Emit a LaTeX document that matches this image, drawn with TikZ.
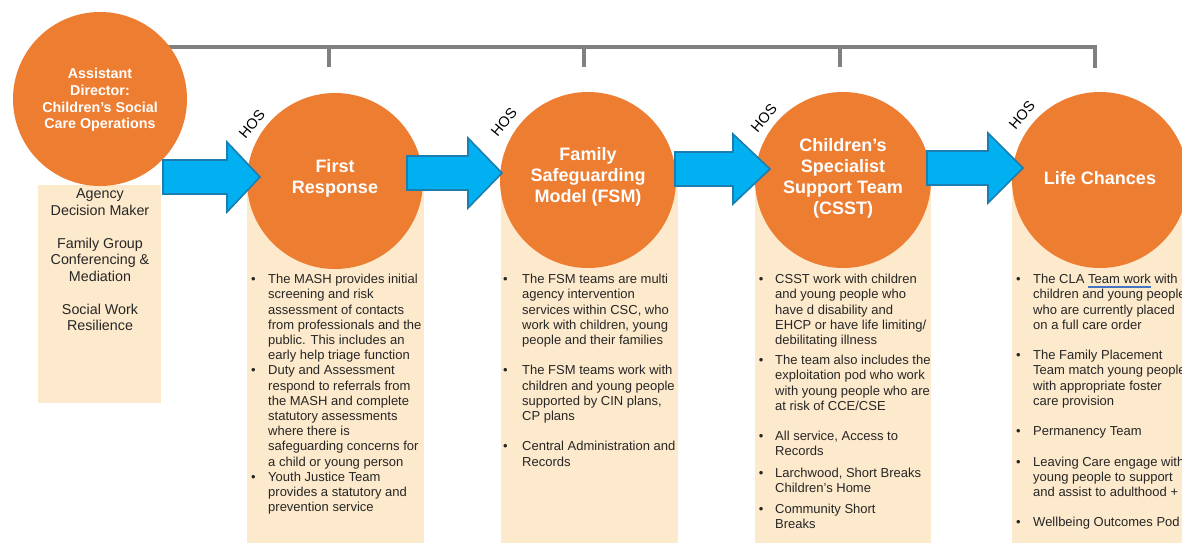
\documentclass[tikz,border=0pt]{standalone}
\usepackage{fontspec}
\setmainfont{Liberation Sans}
\definecolor{orng}{HTML}{ED7D31}
\definecolor{peach}{HTML}{FDE9CB}
\definecolor{arrowblue}{HTML}{00B0F0}
\definecolor{arrowedge}{HTML}{1B7DB0}
\definecolor{bracketgray}{HTML}{808080}
\definecolor{bodytext}{HTML}{262626}
\definecolor{gramblue}{HTML}{4472C4}

% bullet hanging to the left of the first line of an item
\newcommand\bul[1][12.5pt]{\llap{\textbullet\hspace{#1}}}
% blue double underline under a phrase
\newcommand\gramu[1]{\setbox0\hbox{#1}\rlap{\color{gramblue}\rule[-2.4pt]{\wd0}{0.45pt}\hspace{-\wd0}\rule[-3.6pt]{\wd0}{0.45pt}}#1}
% block arrow: shaft start x, head base x, tip x, centre y
\newcommand\blockarrow[4]{%
  \draw[bluearrow] (#1,#4-17) -- (#2,#4-17) -- (#2,#4-35) -- (#3,#4)
    -- (#2,#4+35) -- (#2,#4+17) -- (#1,#4+17) -- cycle;}

\begin{document}
\begin{tikzpicture}[x=1pt,y=-1pt,
  bracket/.style={draw=bracketgray,line width=4.5pt},
  circ/.style={circle,fill=orng,inner sep=0pt},
  panel/.style={fill=peach,inner sep=0pt,anchor=north west},
  bluearrow/.style={fill=arrowblue,draw=arrowedge,line width=1.6pt,line join=miter},
  title/.style={text=white,font=\bfseries\fontsize{18}{21}\selectfont,align=center,inner sep=0pt},
  adtitle/.style={text=white,font=\bfseries\fontsize{14.3}{16.7}\selectfont,align=center,inner sep=0pt},
  body/.style={text=bodytext,font=\fontsize{13}{15.2}\selectfont,align=left,inner sep=0pt,anchor=north west},
  sidetext/.style={text=bodytext,font=\fontsize{14.3}{16.5}\selectfont,align=center,inner sep=0pt,anchor=north},
  hos/.style={text=black,font=\fontsize{14.5}{16}\selectfont,inner sep=0pt,rotate=50}]
\useasboundingbox (0,0) rectangle (1182,542);
\clip (0,0) rectangle (1182,542);

% reporting bracket
\coordinate (tick1) at (329,67);
\coordinate (tick2) at (584,67);
\coordinate (tick3) at (840,67);
\coordinate (tick4) at (1095,68);
\coordinate (bstart) at (100,47);
\draw[bracket] (bstart) -| (tick4);
\foreach \t in {tick1,tick2,tick3} \draw[bracket] (bstart -| \t) -- (\t);

% panels
\node[panel,minimum width=123,minimum height=218] (adpanel) at (38,185) {};
\node[panel,minimum width=177,minimum height=370] (frpanel) at (247,181) {};
\node[panel,minimum width=177,minimum height=370] (fsmpanel) at (501,181) {};
\node[panel,minimum width=176,minimum height=370] (csstpanel) at (755,181) {};
\node[panel,minimum width=180,minimum height=370] (lcpanel) at (1012,181) {};

% circles
\node[circ,minimum size=174] (ad) at (100,99) {};
\node[circ,minimum size=176] (fr) at (335,181) {};
\node[circ,minimum size=176] (fsm) at (588,180) {};
\node[circ,minimum size=176] (csst) at (843,180) {};
\node[circ,minimum size=176] (lc) at (1100,180) {};

\node[adtitle] (adt) at (100,100) {Assistant\\Director:\\Children’s Social\\Care Operations};
\node[title] (frt) at (335,178) {First\\Response};
\node[title] (fsmt) at (588,177) {Family\\Safeguarding\\Model (FSM)};
\node[title] (csstt) at (843,178.5) {Children’s\\Specialist\\Support Team\\(CSST)};
\node[title] (lct) at (1100,178) {Life Chances};

% flow arrows
\blockarrow{163}{227}{260}{177}
\blockarrow{407}{468}{502}{173}
\blockarrow{675}{733}{770}{169}
\blockarrow{927}{988}{1023}{168}

% heads of service
\node[hos] (hos1) at (252,124) {HOS};
\node[hos] (hos2) at (504,122) {HOS};
\node[hos] (hos3) at (764,118) {HOS};
\node[hos] (hos4) at (1022,115) {HOS};

% side panel text
\node[sidetext] (adtxt) at (100,188.5) {Agency\\Decision Maker\\[16.5pt]Family Group\\Conferencing \&\\Mediation\\[16.5pt]Social Work\\Resilience};

% column text
\node[body] (frtxt) at (268,274) {%
\bul The MASH provides initial\\
screening and risk\\
assessment of contacts\\
from professionals and the\\
public. This includes an\\
early help triage function\\
\bul Duty and Assessment\\
respond to referrals from\\
the MASH and complete\\
statutory assessments\\
where there is\\
safeguarding concerns for\\
a child or young person\\
\bul Youth Justice Team\\
provides a statutory and\\
prevention service};

\node[body] (fsmtxt) at (522,274) {%
\bul[14.5pt]The FSM teams are multi\\
agency intervention\\
services within CSC, who\\
work with children, young\\
people and their families\\[15.2pt]
\bul[14.5pt]The FSM teams work with\\
children and young people\\
supported by CIN plans,\\
CP plans\\[15.2pt]
\bul[14.5pt]Central Administration and\\
Records};

\node[body] (cssttxt) at (775,274) {%
\bul[11.7pt]CSST work with children\\
and young people who\\
have d disability and\\
EHCP or have life limiting/\\
debilitating illness\\[5pt]
\bul[11.7pt]The team also includes the\\
exploitation pod who work\\
with young people who are\\
at risk of CCE/CSE\\[15pt]
\bul[11.7pt]All service, Access to\\
Records\\[6.5pt]
\bul[11.7pt]Larchwood, Short Breaks\\
Children's Home\\[6pt]
\bul[11.7pt]Community Short\\
Breaks};

\node[body] (lctxt) at (1033,274) {%
\bul The CLA \gramu{Team work} with\\
children and young people\\
who are currently placed\\
on a full care order\\[15.2pt]
\bul The Family Placement\\
Team match young people\\
with appropriate foster\\
care provision\\[15.2pt]
\bul Permanency Team\\[15.2pt]
\bul Leaving Care engage with\\
young people to support\\
and assist to adulthood +\\[15.2pt]
\bul Wellbeing Outcomes Pod};
\end{tikzpicture}
\end{document}
